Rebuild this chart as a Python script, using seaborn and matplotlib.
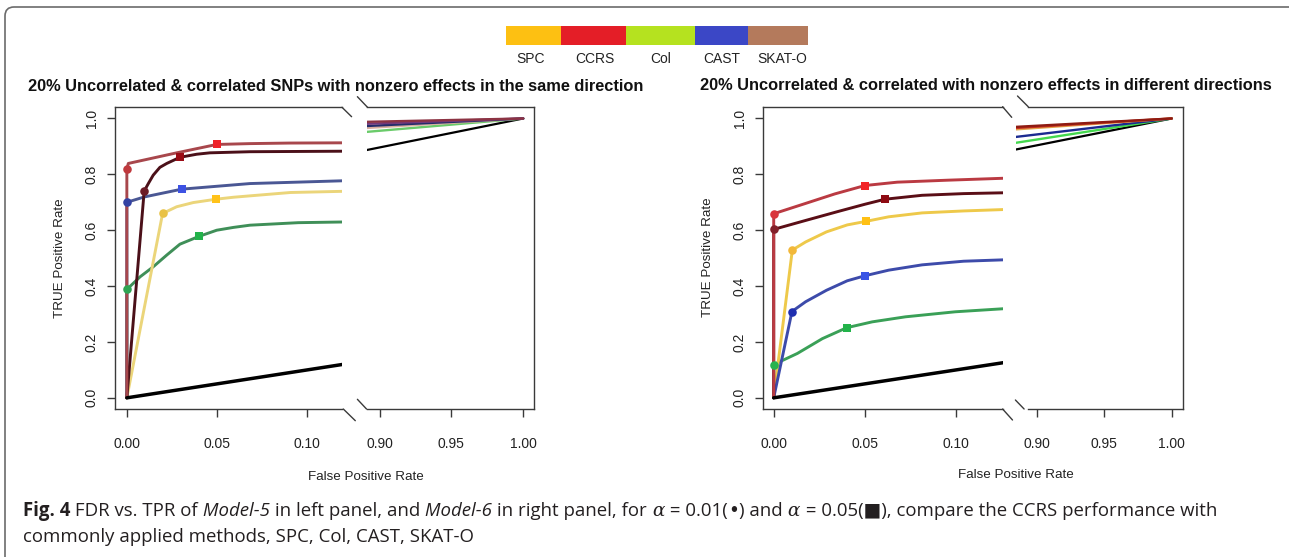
import numpy as np
import pandas as pd
import matplotlib
matplotlib.use("Agg")
import matplotlib.pyplot as plt
import seaborn as sns
from matplotlib.patches import FancyBboxPatch
from matplotlib.lines import Line2D
from matplotlib.transforms import IdentityTransform

sns.set_style("white")
plt.rcParams['font.family'] = ['Liberation Sans', 'DejaVu Sans']

# ---------------- data ----------------
legend_labels = ["SPC", "CCRS", "Col", "CAST", "SKAT-O"]
legend_colors = ["#FDC012", "#E41E27", "#B5E21F", "#3B47C6", "#B47A5C"]

x_ticks_low = [0.00, 0.05, 0.10]
x_ticks_low_labels = ["0.00", "0.05", "0.10"]
x_ticks_high = [0.90, 0.95, 1.00]
x_ticks_high_labels = ["0.90", "0.95", "1.00"]
y_ticks = [0.0, 0.2, 0.4, 0.6, 0.8, 1.0]
y_tick_labels = ["0.0", "0.2", "0.4", "0.6", "0.8", "1.0"]

title_left = "20% Uncorrelated & correlated SNPs with nonzero effects in the same direction"
title_right = "20% Uncorrelated & correlated with nonzero effects in different directions"

# Model-5 (left panel), low-FPR segment
m5_ccrs_fpr = [0, 0, 0.0008, 0.0276, 0.0498, 0.0682, 0.09, 0.125]
m5_ccrs_tpr = [0, 0.818, 0.839, 0.877, 0.907, 0.910, 0.912, 0.913]
m5_skat_fpr = [0, 0.0096, 0.0119, 0.0146, 0.0183, 0.0221, 0.0294, 0.0387, 0.046, 0.0682, 0.125]
m5_skat_tpr = [0, 0.740, 0.767, 0.797, 0.825, 0.839, 0.861, 0.872, 0.877, 0.881, 0.883]
m5_cast_fpr = [0, 0, 0.0096, 0.0304, 0.0682, 0.125]
m5_cast_tpr = [0, 0.700, 0.719, 0.747, 0.767, 0.778]
m5_spc_fpr = [0, 0.0198, 0.0276, 0.0368, 0.0494, 0.059, 0.0682, 0.0906, 0.125]
m5_spc_tpr = [0, 0.660, 0.684, 0.699, 0.711, 0.718, 0.723, 0.735, 0.740]
m5_col_fpr = [0, 0, 0.0073, 0.0146, 0.0221, 0.0294, 0.040, 0.0498, 0.059, 0.0682, 0.095, 0.125]
m5_col_tpr = [0, 0.388, 0.433, 0.469, 0.511, 0.550, 0.578, 0.600, 0.610, 0.618, 0.627, 0.630]
m5_rand_fpr = [0, 0.125]
m5_rand_tpr = [0, 0.125]
# alpha = 0.01 (circle) and alpha = 0.05 (square) points: SPC, CCRS, Col, CAST, SKAT-O
m5_a01_fpr = [0.0198, 0.0, 0.0, 0.0, 0.0096]
m5_a01_tpr = [0.660, 0.818, 0.388, 0.700, 0.740]
m5_a05_fpr = [0.0494, 0.0498, 0.040, 0.0304, 0.0294]
m5_a05_tpr = [0.711, 0.907, 0.578, 0.747, 0.861]
# high-FPR segment: start TPR at FPR 0.891, all end at (1, 1)
m5_high_fpr = [0.891, 1.0]
m5_high_start = {"CCRS": 0.988, "SKAT-O": 0.981, "CAST": 0.973, "SPC": 0.966, "Col": 0.952, "random": 0.887}

# Model-6 (right panel), low-FPR segment
m6_ccrs_fpr = [0, 0, 0.0175, 0.0335, 0.050, 0.0677, 0.095, 0.126]
m6_ccrs_tpr = [0, 0.659, 0.696, 0.730, 0.760, 0.772, 0.779, 0.786]
m6_skat_fpr = [0, 0, 0.0175, 0.0358, 0.050, 0.061, 0.0813, 0.104, 0.126]
m6_skat_tpr = [0, 0.603, 0.635, 0.668, 0.693, 0.711, 0.725, 0.731, 0.734]
m6_spc_fpr = [0, 0.0102, 0.0175, 0.0289, 0.0403, 0.0508, 0.063, 0.0813, 0.104, 0.126]
m6_spc_tpr = [0, 0.529, 0.558, 0.594, 0.619, 0.632, 0.648, 0.662, 0.669, 0.674]
m6_cast_fpr = [0, 0.0100, 0.0175, 0.0289, 0.0403, 0.050, 0.063, 0.0813, 0.104, 0.126]
m6_cast_tpr = [0, 0.309, 0.344, 0.385, 0.419, 0.437, 0.457, 0.476, 0.489, 0.494]
m6_col_fpr = [0, 0, 0.013, 0.0267, 0.040, 0.054, 0.0722, 0.0995, 0.126]
m6_col_tpr = [0, 0.119, 0.159, 0.212, 0.251, 0.272, 0.290, 0.308, 0.319]
m6_rand_fpr = [0, 0.126]
m6_rand_tpr = [0, 0.126]
m6_a01_fpr = [0.0102, 0.0003, 0.0, 0.0100, 0.0]
m6_a01_tpr = [0.529, 0.659, 0.119, 0.309, 0.603]
m6_a05_fpr = [0.0508, 0.050, 0.040, 0.050, 0.061]
m6_a05_tpr = [0.632, 0.760, 0.251, 0.437, 0.711]
m6_high_fpr = [0.8848, 1.0]
m6_high_start = {"SKAT-O": 0.970, "CCRS": 0.966, "SPC": 0.961, "CAST": 0.934, "Col": 0.913, "random": 0.889}

# ---------------- styles ----------------
m5_line_col = {"SPC": "#EBD57A", "CCRS": "#A8474C", "Col": "#3F8F58", "CAST": "#4A5794", "SKAT-O": "#4B1019"}
m5_circ_col = {"SPC": "#E9C245", "CCRS": "#C0393D", "Col": "#2FA453", "CAST": "#3342A3", "SKAT-O": "#6B1A26"}
m5_sq_col = {"SPC": "#FFC21A", "CCRS": "#EE2229", "Col": "#22B34A", "CAST": "#3D52E3", "SKAT-O": "#9B0C16"}
m5_high_col = {"CCRS": "#8C3343", "SKAT-O": "#73387A", "CAST": "#232C6A", "SPC": "#D8AE9F", "Col": "#6ACB6A", "random": "#000000"}

m6_line_col = {"SPC": "#EEC94A", "CCRS": "#BA3A42", "Col": "#3AA057", "CAST": "#3D4BAA", "SKAT-O": "#5A0E16"}
m6_circ_col = {"SPC": "#F2B83A", "CCRS": "#D9343B", "Col": "#28B34E", "CAST": "#1F2FB0", "SKAT-O": "#82202A"}
m6_sq_col = {"SPC": "#FFC014", "CCRS": "#F22528", "Col": "#22B34A", "CAST": "#3A55E5", "SKAT-O": "#8E0A12"}
m6_high_col = {"SKAT-O": "#8E1B12", "CCRS": "#C8301F", "SPC": "#E2A54C", "CAST": "#1B2A90", "Col": "#44D84E", "random": "#000000"}

W, H = 1289, 557
FRAME = "#3a3a3a"
TXT = "#222222"

fig = plt.figure(figsize=(W / 100, H / 100), dpi=100)


def fx(p):
    return p / W


def fy(p):
    return 1 - p / H


def axes_px(x0, y0, x1, y1):
    return fig.add_axes([fx(x0), fy(y1), (x1 - x0) / W, (y1 - y0) / H])


def line(ax, xs, ys, color, lw=2.0, z=2):
    df = pd.DataFrame({"fpr": xs, "tpr": ys})
    sns.lineplot(data=df, x="fpr", y="tpr", estimator=None, sort=False,
                 color=color, lw=lw, ax=ax, zorder=z)
    ax.lines[-1].set_solid_joinstyle("round")


def style_low(ax, xlim):
    ax.set_xlim(*xlim)
    ax.set_ylim(-0.04, 1.04)
    ax.set_xlabel("")
    ax.set_ylabel("")
    for s in ["left", "top", "bottom"]:
        ax.spines[s].set_color(FRAME)
        ax.spines[s].set_linewidth(1.0)
    ax.spines["right"].set_visible(False)
    ax.set_xticks(x_ticks_low)
    ax.set_xticklabels(x_ticks_low_labels)
    ax.set_yticks(y_ticks)
    ax.set_yticklabels(y_tick_labels)
    ax.tick_params(axis="x", direction="out", length=5.5, width=1.0, color=FRAME,
                   pad=14.5, labelsize=10, labelcolor=TXT, bottom=True)
    ax.tick_params(axis="y", direction="out", length=5.5, width=1.0, color=FRAME,
                   pad=6.5, labelsize=10, labelcolor=TXT, labelrotation=90, left=True)
    for t in ax.get_yticklabels():
        t.set_va("center")
    ax.set_facecolor("none")


def style_high(ax, xlim, spine_start):
    ax.set_xlim(*xlim)
    ax.set_ylim(-0.04, 1.04)
    ax.set_xlabel("")
    ax.set_ylabel("")
    for s in ["right", "top", "bottom"]:
        ax.spines[s].set_color(FRAME)
        ax.spines[s].set_linewidth(1.0)
    ax.spines["left"].set_visible(False)
    ax.spines["top"].set_bounds(spine_start, xlim[1])
    ax.spines["bottom"].set_bounds(spine_start, xlim[1])
    ax.set_xticks(x_ticks_high)
    ax.set_xticklabels(x_ticks_high_labels)
    ax.set_yticks([])
    ax.tick_params(axis="x", direction="out", length=5.5, width=1.0, color=FRAME,
                   pad=14.5, labelsize=10, labelcolor=TXT, bottom=True)
    ax.set_facecolor("none")


def panel(low_box, high_box, low_xlim, high_xlim, high_spine_start,
          curves, line_col, circ_col, sq_col,
          a01, a05, high_fpr, high_start, high_col, rand):
    axl = axes_px(*low_box)
    axh = axes_px(*high_box)
    for name in ["Col", "SPC", "CAST", "SKAT-O", "CCRS"]:
        xs, ys = curves[name]
        line(axl, xs, ys, line_col[name], lw=2.1)
    line(axl, rand[0], rand[1], "#000000", lw=2.5, z=3)
    for i, name in enumerate(legend_labels):
        sns.scatterplot(x=[a01[0][i]], y=[a01[1][i]], marker="o", s=38,
                        color=circ_col[name], linewidth=0, ax=axl, zorder=5)
        sns.scatterplot(x=[a05[0][i]], y=[a05[1][i]], marker="s", s=38,
                        color=sq_col[name], linewidth=0, ax=axl, zorder=5)
    order = list(high_start.keys())
    for name in order[::-1]:
        lw = 1.7 if name != "random" else 1.6
        line(axh, high_fpr, [high_start[name], 1.0], high_col[name], lw=lw)
    style_low(axl, low_xlim)
    style_high(axh, high_xlim, high_spine_start)
    return axl, axh


m5_curves = {"SPC": (m5_spc_fpr, m5_spc_tpr), "CCRS": (m5_ccrs_fpr, m5_ccrs_tpr),
             "Col": (m5_col_fpr, m5_col_tpr), "CAST": (m5_cast_fpr, m5_cast_tpr),
             "SKAT-O": (m5_skat_fpr, m5_skat_tpr)}
m6_curves = {"SPC": (m6_spc_fpr, m6_spc_tpr), "CCRS": (m6_ccrs_fpr, m6_ccrs_tpr),
             "Col": (m6_col_fpr, m6_col_tpr), "CAST": (m6_cast_fpr, m6_cast_tpr),
             "SKAT-O": (m6_skat_fpr, m6_skat_tpr)}

panel((115.3, 107.3, 342.0, 409.0), (366.7, 107.3, 534.0, 409.0),
      (-0.0064, 0.1192), (0.891, 1.0075), 0.891,
      m5_curves, m5_line_col, m5_circ_col, m5_sq_col,
      (m5_a01_fpr, m5_a01_tpr), (m5_a05_fpr, m5_a05_tpr),
      m5_high_fpr, m5_high_start, m5_high_col, (m5_rand_fpr, m5_rand_tpr))

panel((763.3, 107.3, 1002.6, 409.0), (1016.0, 107.3, 1182.5, 409.0),
      (-0.0057, 0.1254), (0.8848, 1.008), 0.8939,
      m6_curves, m6_line_col, m6_circ_col, m6_sq_col,
      (m6_a01_fpr, m6_a01_tpr), (m6_a05_fpr, m6_a05_tpr),
      m6_high_fpr, m6_high_start, m6_high_col, (m6_rand_fpr, m6_rand_tpr))

# axis-break slashes (pixel coordinates)
breaks = [
    ((342.0, 107.3), (351.6, 116.7)), ((357.4, 96.7), (367.5, 107.3)),
    ((343.3, 409.0), (355.3, 420.7)), ((357.4, 399.3), (366.5, 409.0)),
    ((1002.6, 106.7), (1011.7, 117.3)), ((1017.5, 96.0), (1028.2, 106.7)),
    ((1002.6, 409.0), (1012.5, 420.0)), ((1015.4, 400.0), (1024.1, 409.0)),
]
for (x0, y0), (x1, y1) in breaks:
    fig.add_artist(Line2D([fx(x0), fx(x1)], [fy(y0), fy(y1)],
                          transform=fig.transFigure, color=FRAME, lw=1.0))

# titles and axis labels
fig.text(fx(336), fy(86.5), title_left, ha="center", va="center",
         fontsize=11.8, fontweight="bold", color="#111111")
fig.text(fx(986), fy(85.5), title_right, ha="center", va="center",
         fontsize=11.8, fontweight="bold", color="#111111")
for xc, yc in [(60, 258), (708.3, 257)]:
    fig.text(fx(xc), fy(yc), "TRUE Positive Rate", rotation=90, ha="center",
             va="center", fontsize=9.6, color=TXT)
for xc, yc in [(366, 477), (1016, 475)]:
    fig.text(fx(xc), fy(yc), "False Positive Rate", ha="center", va="center",
             fontsize=9.6, color=TXT)

# legend colour bar
seg_edges = [506.0, 561.0, 626.0, 695.0, 748.3, 808.3]
label_x = [531.0, 595.0, 660.7, 721.7, 782.3]
axleg = axes_px(506.0, 26.0, 808.3, 45.0)
for i in range(len(legend_labels)):
    axleg.barh(0, seg_edges[i + 1] - seg_edges[i], left=seg_edges[i], height=1.0,
               color=legend_colors[i], linewidth=0)
axleg.set_xlim(seg_edges[0], seg_edges[-1])
axleg.set_ylim(-0.5, 0.5)
axleg.axis("off")
for i, lab in enumerate(legend_labels):
    fig.text(fx(label_x[i]), fy(59.3), lab, ha="center", va="center",
             fontsize=10, color=TXT)

# outer rounded frame
frame = FancyBboxPatch((5, -60), 1420, H - 7 + 60,
                       boxstyle="round,pad=0,rounding_size=9",
                       transform=IdentityTransform(), facecolor="none",
                       edgecolor="#6b6b6b", linewidth=1.2)
fig.add_artist(frame)

# caption
cap_font = ["Open Sans", "DejaVu Sans"]
runs1 = [
    ("Fig. 4", dict(fontweight="bold")),
    (" FDR vs. TPR of", {}),
    (" Model-5", dict(fontstyle="italic")),
    (" in left panel, and", {}),
    (" Model-6", dict(fontstyle="italic")),
    (" in right panel, for", {}),
    (" \u03b1", dict(fontstyle="italic", family=["DejaVu Serif"])),
    (" = 0.01(", {}),
    ("\u2022", dict(family=["DejaVu Sans"])),
    (") and", {}),
    (" \u03b1", dict(fontstyle="italic", family=["DejaVu Serif"])),
    (" = 0.05(\u25a0), compare the CCRS performance with", {}),
]
runs2 = [("commonly applied methods, SPC, Col, CAST, SKAT-O", {})]

renderer = fig.canvas.get_renderer()


def draw_runs(runs, x0, ybase, size):
    x = x0
    out = []
    for txt, kw in runs:
        kw = dict(kw)
        fam = kw.pop("family", cap_font)
        t = fig.text(fx(x), fy(ybase), txt, ha="left", va="baseline",
                     fontsize=size, family=fam, color="#231f20", **kw)
        bb = t.get_window_extent(renderer)
        x += bb.width
        out.append(t)
    return out, x - x0


base = 12.0
texts, wid = draw_runs(runs1, 22.8, 516, base)
for t in texts:
    t.remove()
size = base * (1194.0 / wid)
draw_runs(runs1, 22.8, 516, size)
draw_runs(runs2, 22.8, 542, size)

fig.savefig("out.png", dpi=100)
